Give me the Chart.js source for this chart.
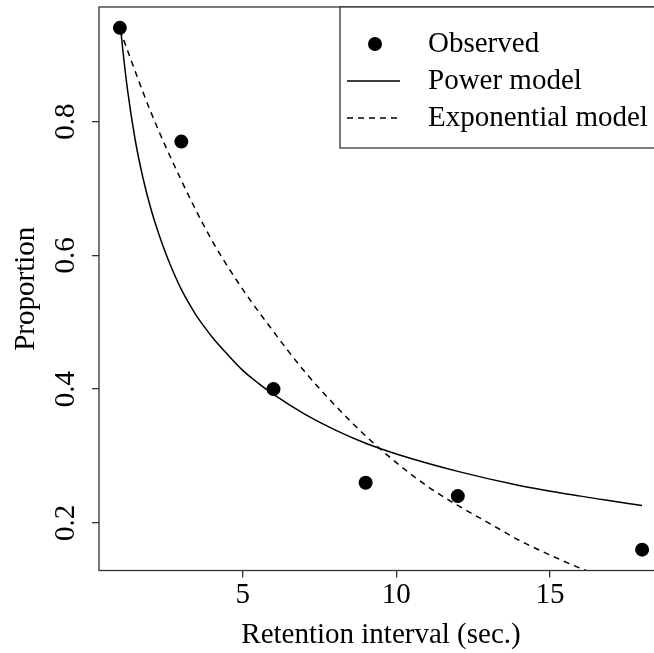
<!DOCTYPE html>
<html><head><meta charset="utf-8">
<script src="https://cdn.jsdelivr.net/npm/chart.js@4/dist/chart.umd.min.js"></script>
<style>
html,body{margin:0;padding:0;background:#fff;overflow:hidden;}
#wrap{width:654px;height:653px;overflow:hidden;position:relative;background:#fff;}
canvas{display:block;}
</style></head><body>
<div id="wrap"><canvas id="c" width="700" height="653" style="width:700px;height:653px"></canvas></div>
<script>
// ---- data ----
const observedX = [1, 3, 6, 9, 12, 18];
const observedY = [0.94, 0.77, 0.40, 0.26, 0.24, 0.16];

const powerX = [1, 1.1, 1.25, 1.5, 1.75, 2, 2.25, 2.5, 2.75, 3, 3.25, 3.5, 3.75, 4, 4.5, 5, 5.5, 6, 7, 8, 9, 10, 12, 14, 16, 18];
const powerY = [0.95, 0.905, 0.847, 0.772, 0.716, 0.671, 0.634, 0.602, 0.574, 0.549, 0.528, 0.509, 0.493, 0.478, 0.452, 0.428, 0.409, 0.392, 0.363, 0.339, 0.319, 0.303, 0.277, 0.256, 0.240, 0.226];

const expX = [1, 2, 3, 4, 5, 6, 7, 8, 9, 10, 11, 12, 13, 14, 15, 16, 16.3];
const expY = [0.937, 0.815, 0.712, 0.622, 0.549, 0.486, 0.427, 0.376, 0.330, 0.290, 0.255, 0.226, 0.200, 0.174, 0.152, 0.132, 0.127];

const xTicks = [5, 10, 15];
const yTicks = [0.2, 0.4, 0.6, 0.8];
const xRange = [0.32, 18.68];
const yRange = [0.1288, 0.9712];
const seriesLabels = ['Observed', 'Power model', 'Exponential model'];
const xTitle = 'Retention interval (sec.)';
const yTitle = 'Proportion';

// ---- styling ----
const FONT = "'Liberation Serif', 'Times New Roman', serif";
const FS = 29;
const AXIS = '#333';
const pts = (xs, ys) => xs.map((x, i) => ({x: x, y: ys[i]}));

const decorations = {
  id: 'decorations',
  afterDraw(chart) {
    const ctx = chart.ctx;
    const ca = chart.chartArea;
    const ys = chart.scales.y;
    ctx.save();
    // frame box
    ctx.strokeStyle = AXIS;
    ctx.lineWidth = 1.3;
    ctx.strokeRect(ca.left, ca.top, ca.right - ca.left, ca.bottom - ca.top);
    // rotated y tick labels
    ctx.fillStyle = '#000';
    ctx.font = FS + 'px ' + FONT;
    ctx.textAlign = 'center';
    ctx.textBaseline = 'middle';
    yTicks.forEach(v => {
      const py = ys.getPixelForValue(v);
      ctx.save();
      ctx.translate(66, py);
      ctx.rotate(-Math.PI / 2);
      ctx.fillText(v.toFixed(1), 0, 0);
      ctx.restore();
    });
    // legend box (top-right of plot region)
    const lx = ca.right - 323, ly = ca.top, lb = ca.top + 141;
    ctx.fillStyle = '#fff';
    ctx.fillRect(lx, ly, ca.right - lx, lb - ly);
    ctx.strokeStyle = AXIS;
    ctx.lineWidth = 1.3;
    ctx.strokeRect(lx, ly, ca.right - lx, lb - ly);
    const ds = chart.data.datasets;
    ds.forEach((d, i) => {
      const cy = ly + 37 + i * 37;
      ctx.save();
      if (d.showLine === false) {
        ctx.fillStyle = d.backgroundColor;
        ctx.beginPath();
        ctx.arc(lx + 35, cy, d.pointRadius, 0, Math.PI * 2);
        ctx.fill();
      } else {
        ctx.strokeStyle = d.borderColor;
        ctx.lineWidth = d.borderWidth;
        ctx.setLineDash(d.borderDash || []);
        ctx.beginPath();
        ctx.moveTo(lx + 7, cy);
        ctx.lineTo(lx + 60, cy);
        ctx.stroke();
      }
      ctx.restore();
      ctx.fillStyle = '#000';
      ctx.font = FS + 'px ' + FONT;
      ctx.textAlign = 'left';
      ctx.textBaseline = 'middle';
      ctx.fillText(d.label, lx + 88, cy);
    });
    ctx.restore();
  }
};

new Chart(document.getElementById('c'), {
  type: 'scatter',
  data: {
    datasets: [
      {label: seriesLabels[0], data: pts(observedX, observedY), showLine: false,
       pointRadius: 7, pointHoverRadius: 7, backgroundColor: '#000', borderColor: '#000', borderWidth: 0},
      {label: seriesLabels[1], data: pts(powerX, powerY), showLine: true, pointRadius: 0,
       borderColor: '#000', borderWidth: 1.5, cubicInterpolationMode: 'monotone', fill: false},
      {label: seriesLabels[2], data: pts(expX, expY), showLine: true, pointRadius: 0,
       borderColor: '#000', borderWidth: 1.5, borderDash: [6, 5], cubicInterpolationMode: 'monotone', fill: false}
    ]
  },
  options: {
    responsive: false,
    devicePixelRatio: 1,
    animation: false,
    layout: {padding: {left: 0, right: 37, top: 6, bottom: 0}},
    plugins: {legend: {display: false}, tooltip: {enabled: false}},
    scales: {
      x: {
        type: 'linear', min: xRange[0], max: xRange[1],
        afterBuildTicks: s => { s.ticks = xTicks.map(v => ({value: v})); },
        afterFit: s => { s.height = 82.5; },
        ticks: {color: '#000', font: {family: FONT, size: FS}, padding: 0, maxRotation: 0, autoSkip: false},
        grid: {drawOnChartArea: false, drawTicks: true, tickLength: 7, color: AXIS, lineWidth: 1.3},
        border: {display: false},
        title: {display: true, text: xTitle, color: '#000', font: {family: FONT, size: FS}, padding: {top: 0, bottom: 0}}
      },
      y: {
        type: 'linear', min: yRange[0], max: yRange[1],
        afterBuildTicks: s => { s.ticks = yTicks.map(v => ({value: v})); },
        afterFit: s => { s.width = 99; },
        ticks: {display: false},
        grid: {drawOnChartArea: false, drawTicks: true, tickLength: 7, color: AXIS, lineWidth: 1.3},
        border: {display: false},
        title: {display: true, text: yTitle, color: '#000', font: {family: FONT, size: FS}, padding: {top: 9, bottom: 0}}
      }
    }
  },
  plugins: [decorations]
});
</script>
</body></html>
